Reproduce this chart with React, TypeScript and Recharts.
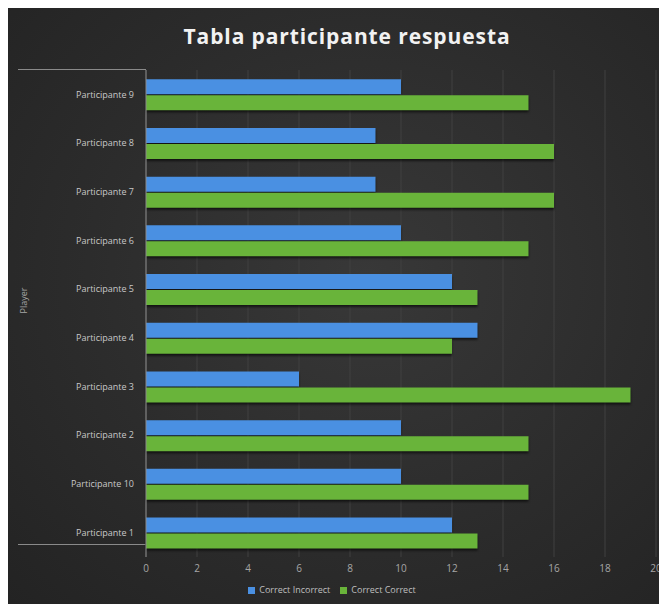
import { BarChart, Bar, XAxis, YAxis, CartesianGrid, Legend } from 'recharts';

// top-to-bottom order as shown in the chart
const players = [
  'Participante 9',
  'Participante 8',
  'Participante 7',
  'Participante 6',
  'Participante 5',
  'Participante 4',
  'Participante 3',
  'Participante 2',
  'Participante 10',
  'Participante 1',
];
const incorrect = [10, 9, 9, 10, 12, 13, 6, 10, 10, 12];
const correct = [15, 16, 16, 15, 13, 12, 19, 15, 15, 13];
const xTicks = [0, 2, 4, 6, 8, 10, 12, 14, 16, 18, 20];
const seriesOrder = ['incorrect', 'correct'];

const data = players.map((player, i) => ({
  player,
  incorrect: incorrect[i],
  correct: correct[i],
}));

const font = '"Open Sans", "DejaVu Sans", sans-serif';

export default function App() {
  return (
    <div
      style={{
        position: 'relative',
        width: 654,
        height: 596,
        background: 'radial-gradient(ellipse at 55% 45%, #383838 0%, #2c2c2c 55%, #232323 100%)',
        fontFamily: font,
      }}
    >
      <div
        style={{
          position: 'absolute',
          top: 14,
          left: 12,
          width: 654,
          textAlign: 'center',
          color: '#f2f2f2',
          fontSize: 21,
          fontWeight: 700,
          letterSpacing: 0.9,
        }}
      >
        Tabla participante respuesta
      </div>
      {/* category-axis frame lines spanning the label column */}
      <div style={{ position: 'absolute', left: 10, top: 61, width: 128, height: 1, background: '#8a8a8a' }} />
      <div style={{ position: 'absolute', left: 10, top: 536, width: 128, height: 1, background: '#8a8a8a' }} />
      <BarChart
        width={654}
        height={596}
        data={data}
        layout="vertical"
        margin={{ top: 62, right: 6, left: 10, bottom: 8 }}
        barCategoryGap="19%"
        barGap={1}
        style={{ overflow: 'visible' }}
      >
        <CartesianGrid horizontal={false} stroke="#414141" />
        <XAxis
          type="number"
          domain={[0, 20]}
          ticks={xTicks}
          axisLine={false}
          tickLine={false}
          tick={{ fill: '#a6a6a6', fontSize: 10, fontFamily: font }}
          height={26}
        />
        <YAxis
          type="category"
          dataKey="player"
          width={128}
          axisLine={{ stroke: '#8a8a8a' }}
          tickLine={false}
          tick={{ fill: '#c8c8c8', fontSize: 9, fontFamily: font }}
          tickMargin={6}
          label={{
            value: 'Player',
            angle: -90,
            position: 'insideLeft',
            offset: 6,
            fill: '#a6a6a6',
            fontSize: 9,
            fontFamily: font,
          }}
        />
        <Legend
          verticalAlign="bottom"
          align="center"
          iconType="square"
          iconSize={7}
          itemSorter={(item: any) => seriesOrder.indexOf(item.dataKey)}
          wrapperStyle={{ fontSize: 9, color: '#bfbfbf', fontFamily: font }}
          formatter={(value) => <span style={{ color: '#bfbfbf' }}>{value}</span>}
        />
        <Bar
          dataKey="incorrect"
          name="Correct Incorrect"
          fill="#4a90e2"
          isAnimationActive={false}
          style={{ filter: 'drop-shadow(0px 2px 1px rgba(0,0,0,0.6))' }}
        />
        <Bar
          dataKey="correct"
          name="Correct Correct"
          fill="#69b43a"
          isAnimationActive={false}
          style={{ filter: 'drop-shadow(0px 2px 1px rgba(0,0,0,0.6))' }}
        />
      </BarChart>
    </div>
  );
}
